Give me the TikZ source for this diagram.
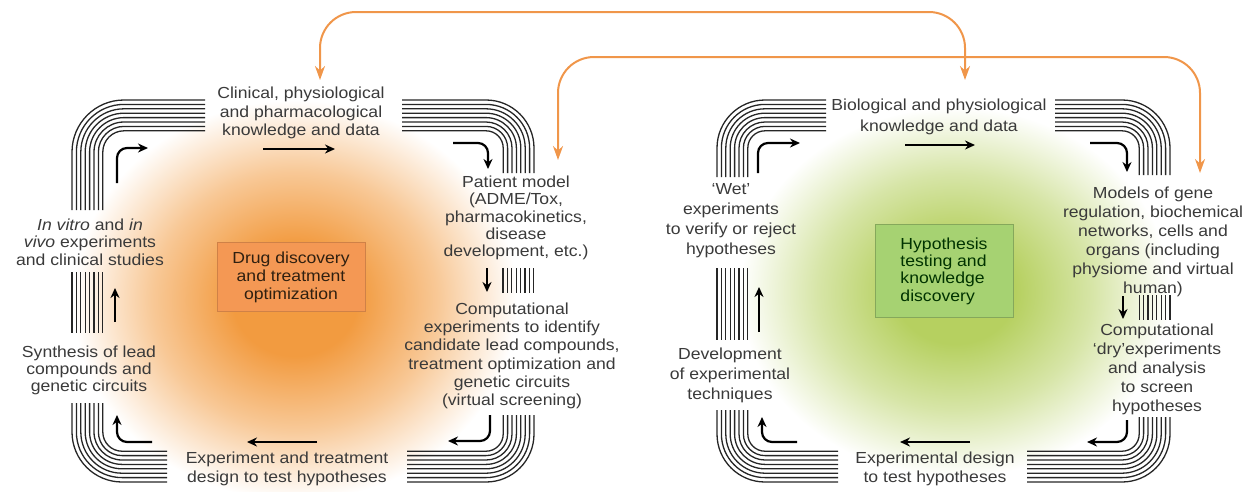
\documentclass[tikz,border=0pt]{standalone}
\usepackage{fontspec}
\setmainfont[FakeStretch=1.1]{Liberation Sans}
\usetikzlibrary{arrows.meta}

\definecolor{txt}{RGB}{58,58,58}
\definecolor{glowor}{RGB}{242,155,64}
\definecolor{glowgr}{RGB}{182,208,96}
\definecolor{boxor}{RGB}{244,152,84}
\definecolor{boxgr}{RGB}{166,210,114}
\definecolor{linkc}{RGB}{240,150,74}

\pgfdeclareradialshading{orangeglow}{\pgfpoint{0bp}{0bp}}{color(0bp)=(glowor);
  color(7bp)=(glowor); color(16bp)=(glowor!55); color(25bp)=(white); color(50bp)=(white)}
\pgfdeclareradialshading{greenglow}{\pgfpoint{0bp}{0bp}}{color(0bp)=(glowgr);
  color(7bp)=(glowgr); color(16bp)=(glowgr!55); color(25bp)=(white); color(50bp)=(white)}

\newcommand{\lines}[1]{\fontsize{16}{#1}\selectfont}

\begin{document}
\begin{tikzpicture}[x=1pt, y=-1pt,
  every node/.style = {align=center, inner sep=0pt, text=txt},
  flow/.style = {line width=2.2pt, -{Stealth[length=10pt, width=9pt]}},
  link/.style = {draw=linkc, line width=2pt, rounded corners=36pt,
    {Stealth[length=14pt, width=10pt]}-{Stealth[length=14pt, width=10pt]}},
  tube/.style = {line width=1.3pt, draw=black!85},
  hub/.style = {rectangle, line width=0.8pt, font=\lines{18}}]
  \useasboundingbox (0,0) rectangle (1257,491);
  \def\gap{4.4}

  % soft background glow of each cycle
  \shade[shading=orangeglow] (295,300) ellipse [x radius=222, y radius=200];
  \shade[shading=greenglow] (955,292) ellipse [x radius=215, y radius=185];

  % bent bundles of lines at the corners of both cycles
  \foreach \ox/\oy/\sx/\sy/\vy/\hx/\R in {72/100/1/1/210/205/52, 534/100/-1/1/173/402/48,
      534/482/-1/-1/415/407/48, 72/482/1/-1/403/167/50, 717/100/1/1/177/826/48,
      1170/100/-1/1/175/1055/48, 1170/482/-1/-1/417/1027/48, 717/482/1/-1/410/838/48}
    \foreach \i in {0,...,7} {
      \pgfmathsetmacro\r{\R-\i*\gap}
      \pgfmathsetmacro\px{\ox+\sx*\i*\gap}
      \pgfmathsetmacro\py{\oy+\sy*\i*\gap}
      \draw[tube, rounded corners=\r pt] (\px,\vy) |- (\hx,\py);
    }
  % straight bundles on the sides
  \foreach \x/\ya/\yb in {503/268/293, 72/272/333, 717/268/340, 1139.2/295/320}
    \foreach \i in {0,...,7}
      \draw[tube] (\x+\i*\gap,\ya) -- (\x+\i*\gap,\yb);

  % drug discovery cycle
  \node[hub, fill=boxor, draw=boxor!85!black, text=black!75!brown,
    minimum width=148pt, minimum height=69pt] (drug) at (291,277)
    {Drug discovery\\and treatment\\optimization};
  \node[font=\lines{18.3}] (clin) at (301,113) {Clinical, physiological\\and pharmacological\\knowledge and data};
  \node[font=\lines{17.3}] (patient) at (516,218) {Patient model\\(ADME/Tox,\\pharmacokinetics,\\disease\\development, etc.)};
  \node[font=\lines{18.3}] (insilico) at (512,356) {Computational\\experiments to identify\\candidate lead compounds,\\treatment optimization and\\genetic circuits\\(virtual screening)};
  \node[font=\lines{18.3}] (design) at (287,469) {Experiment and treatment\\design to test hypotheses};
  \node[font=\lines{17}] (synth) at (89,370) {Synthesis of lead\\compounds and\\genetic circuits};
  \node[font=\lines{17.5}] (clinstud) at (90,242) {\textit{In vitro} and \textit{in}\\\textit{vivo} experiments\\and clinical studies};

  \draw[flow, rounded corners=10pt] (117,183) |- (148,148);
  \draw[flow] (263,149) -- (335,149);
  \draw[flow, rounded corners=10pt] (453,143) -| (488,169);
  \draw[flow] (487,268) -- (487,292);
  \draw[flow, rounded corners=10pt] (490,415) |- (448,441);
  \draw[flow] (317,442) -- (247,442);
  \draw[flow, rounded corners=10pt] (152,442) -| (117,415);
  \draw[flow] (115,322) -- (115,288);

  % hypothesis testing cycle
  \node[hub, fill=boxgr, draw=boxgr!80!black, text=black!80!green, align=left,
    minimum width=138pt, minimum height=93pt, font=\lines{17.3}] (hypo) at (944,271)
    {Hypothesis\\testing and\\knowledge\\discovery};
  \node[font=\lines{21}] (bio) at (939,117) {Biological and physiological\\knowledge and data};
  \node[font=\lines{19}] (models) at (1153,242) {Models of gene\\regulation, biochemical\\networks, cells and\\organs (including\\physiome and virtual\\human)};
  \node[font=\lines{19}] (dry) at (1157,369) {Computational\\`dry'experiments\\and analysis\\to screen\\hypotheses};
  \node[font=\lines{19}] (expdesign) at (935,469) {Experimental design\\to test hypotheses};
  \node[font=\lines{20}] (dev) at (730,375) {Development\\of experimental\\techniques};
  \node[font=\lines{20}] (wet) at (731,221) {`Wet'\\experiments\\to verify or reject\\hypotheses};

  \draw[flow, rounded corners=10pt] (758,173) |- (800,143);
  \draw[flow] (905,145) -- (975,145);
  \draw[flow, rounded corners=10pt] (1090,143) -| (1127,172);
  \draw[flow] (1123,296) -- (1123,319);
  \draw[flow, rounded corners=10pt] (1127,420) |- (1087,442);
  \draw[flow] (970,442) -- (900,442);
  \draw[flow, rounded corners=10pt] (797,442) -| (762,417);
  \draw[flow] (759,332) -- (759,287);

  % links between the two cycles
  \coordinate (clinin) at (320,80);
  \coordinate (bioin) at (965,80);
  \coordinate (patientin) at (558,160);
  \coordinate (modelsin) at (1200,173);
  \draw[link] (clinin) -- (320,12) -- (965,12) -- (bioin);
  \draw[link] (patientin) -- (558,57) -- (1200,57) -- (modelsin);
\end{tikzpicture}
\end{document}
